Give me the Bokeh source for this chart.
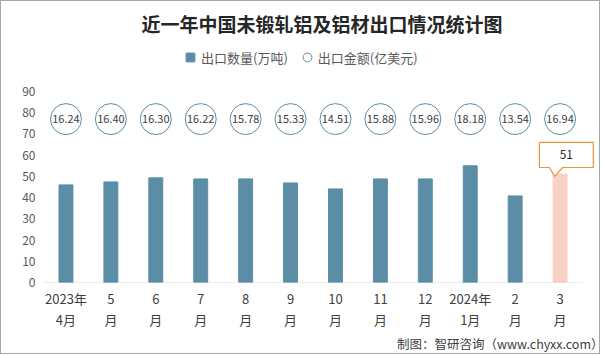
from bokeh.plotting import figure
from bokeh.models import Range1d, FixedTicker, Legend, LegendItem, Title, ColumnDataSource
from bokeh.core.properties import value
from bokeh.embed import file_html
from bokeh.resources import INLINE

# ---- data ----
months = ["2023年\n4月", "5\n月", "6\n月", "7\n月", "8\n月", "9\n月",
          "10\n月", "11\n月", "12\n月", "2024年\n1月", "2\n月", "3\n月"]
volume = [46.0, 47.4, 49.3, 48.8, 48.8, 46.9, 44.1, 48.8, 48.8, 55.0, 40.8, 51]
amount = [16.24, 16.40, 16.30, 16.22, 15.78, 15.33, 14.51, 15.88, 15.96, 18.18, 13.54, 16.94]
y_ticks = [0, 10, 20, 30, 40, 50, 60, 70, 80, 90]

BLUE = "#5b8ea6"
PINK = "#f8d0c6"
ORANGE = "#e8943a"
FONT = "Noto Sans CJK SC"

n = len(months)
xs = list(range(n))
colors = [BLUE] * (n - 1) + [PINK]
circle_row = 77  # vertical level of the amount bubbles

src = ColumnDataSource(dict(
    x=xs, vol=volume, color=colors,
    cy=[circle_row] * n,
    amt=["%.2f" % a for a in amount],
))

p = figure(width=600, height=354, output_backend="svg", toolbar_location=None,
           x_range=Range1d(-0.5, 11.9), y_range=Range1d(0, 113.56),
           min_border_left=42, min_border_right=1, min_border_top=40, min_border_bottom=73)
p.styles = {"border": "1px solid #a6a6a6"}
p.outline_line_color = None
p.background_fill_color = "white"
p.border_fill_color = "white"
p.xgrid.visible = False
p.ygrid.visible = False

# axes
p.yaxis.ticker = FixedTicker(ticks=y_ticks)
p.yaxis.axis_line_color = None
p.yaxis.major_tick_line_color = None
p.yaxis.minor_tick_line_color = None
p.yaxis.major_label_text_font = FONT
p.yaxis.major_label_text_font_size = "12px"
p.yaxis.major_label_text_color = "#595959"
p.yaxis.major_label_standoff = 2

p.xaxis.ticker = FixedTicker(ticks=xs)
p.xaxis.major_label_overrides = {i: m for i, m in enumerate(months)}
p.xaxis.axis_line_color = None
p.xaxis.major_tick_line_color = None
p.xaxis.minor_tick_line_color = None
p.xaxis.major_label_text_font = FONT
p.xaxis.major_label_text_font_size = "13px"
p.xaxis.major_label_text_color = "#404040"
p.xaxis.major_label_text_line_height = 1.11
p.xaxis.major_label_standoff = 0

# baseline
p.segment(x0=-0.5, y0=0, x1=n - 0.5, y1=0, line_color="#d9d9d9", line_width=1)

# bars
bars = p.vbar(x="x", top="vol", width=0.31, fill_color="color", line_color="color", source=src)

# bubbles
p.scatter(x="x", y="cy", size=31, marker="circle", fill_color="white",
          line_color=BLUE, line_width=1, source=src)
p.text(x="x", y="cy", text="amt", text_align="center", text_baseline="middle",
       text_font=value(FONT), text_font_size="11px", text_color="#404040", source=src)

# callout for last bar
lx = xs[-1]
lv = volume[-1]
bx0, bx1 = lx - 0.46, lx + 0.74
by0, by1 = lv + 3.2, lv + 15.0
px0, ptip, px1 = lx - 0.24, lx - 0.12, lx + 0.06
p.patch(x=[bx0, bx1, bx1, px1, ptip, px0, bx0],
        y=[by1, by1, by0, by0, lv - 1.0, by0, by0],
        fill_color="white", line_color=ORANGE, line_width=1.2)
p.text(x=[(bx0 + bx1) / 2], y=[(by0 + by1) / 2], text=[str(lv)], text_align="center",
       text_baseline="middle", text_font=value(FONT), text_font_size="12px", text_color="#262626")

# legend with dummy renderers
nan = float("nan")
r_sq = p.scatter(x=[nan], y=[nan], marker="square", size=9, fill_color=BLUE, line_color=BLUE)
r_ci = p.scatter(x=[nan], y=[nan], marker="circle", size=9, fill_color="white", line_color=BLUE)
legend = Legend(items=[LegendItem(label="出口数量(万吨)", renderers=[r_sq]),
                       LegendItem(label="出口金额(亿美元)", renderers=[r_ci])],
                orientation="horizontal", location=(136, 214),
                glyph_width=22, glyph_height=22, label_standoff=0, spacing=8,
                padding=0, margin=0, border_line_color=None, background_fill_alpha=0,
                label_text_font=FONT, label_text_font_size="13px", label_text_color="#595959")
p.add_layout(legend, "center")

# title
p.title = Title(text="近一年中国未锻轧铝及铝材出口情况统计图", align="center", offset=-20,
                text_font=FONT, text_font_size="19px", text_font_style="bold",
                text_color="#262626", standoff=10)

# footer
p.add_layout(Title(text="制图：智研咨询（www.chyxx.com）", align="right", offset=-3,
                   text_font=FONT, text_font_size="12.5px", text_font_style="normal",
                   text_color="#404040", standoff=0), "below")

open("out.html", "w").write(file_html(p, INLINE))
